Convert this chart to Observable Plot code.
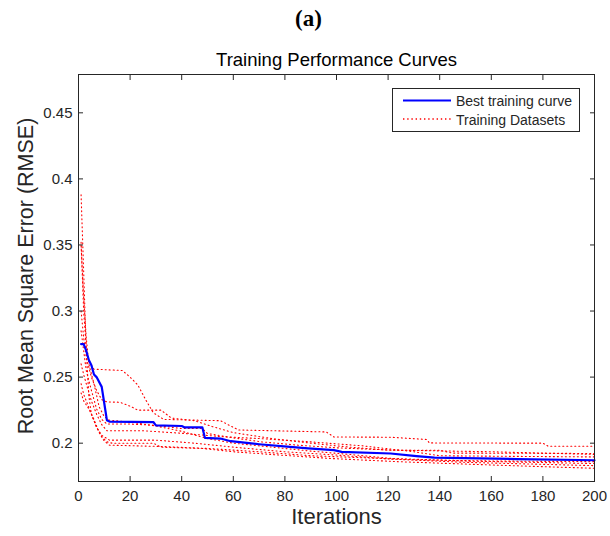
<!DOCTYPE html>
<html>
<head>
<meta charset="utf-8">
<script src="https://cdn.jsdelivr.net/npm/d3@7"></script>
<script src="https://cdn.jsdelivr.net/npm/@observablehq/plot@0.6"></script>
<style>
  html, body { margin: 0; padding: 0; background: #fff; }
  #chart { width: 610px; height: 536px; }
</style>
</head>
<body>
<div id="chart"></div>
<script>
// ---- tick labels ----
const xTicks = [0, 20, 40, 60, 80, 100, 120, 140, 160, 180, 200];
const yTicks = [0.2, 0.25, 0.3, 0.35, 0.4, 0.45];

// ---- best training curve ----
const bestIter = [1, 2, 3, 4, 5, 6, 7, 9, 10, 11, 12, 29, 30, 40, 41, 48, 49, 55, 59, 70, 82, 89, 99, 102, 121, 131, 138, 170, 200];
const bestRmse = [0.275, 0.275, 0.27, 0.263, 0.259, 0.252, 0.25, 0.2426, 0.23, 0.2174, 0.2163, 0.216, 0.2135, 0.213, 0.212, 0.212, 0.204, 0.2035, 0.2015, 0.1992, 0.1972, 0.196, 0.1947, 0.1934, 0.1922, 0.1902, 0.189, 0.188, 0.1871];

// ---- training datasets (dotted) ----
const runAIter = [1, 2, 3, 4, 6, 17, 20, 23, 26, 29, 33, 55, 58, 62, 96, 99, 121, 135, 136, 180, 182, 200];
const runARmse = [0.352, 0.30, 0.272, 0.262, 0.256, 0.255, 0.25, 0.244, 0.233, 0.223, 0.218, 0.217, 0.214, 0.21, 0.2085, 0.2047, 0.2045, 0.2028, 0.2002, 0.2, 0.1977, 0.1977];

const runBIter = [1, 2, 3, 4, 5, 7, 9, 11, 13, 29, 32, 48, 60, 78, 98, 124, 160, 200];
const runBRmse = [0.388, 0.33, 0.27, 0.236, 0.222, 0.212, 0.205, 0.201, 0.2, 0.2, 0.197, 0.196, 0.1935, 0.191, 0.1884, 0.186, 0.1835, 0.181];

const runCIter = [1, 2, 3, 4, 6, 8, 10, 12, 20, 30, 40, 50, 60, 75, 90, 105, 121, 150, 200];
const runCRmse = [0.35, 0.31, 0.28, 0.26, 0.245, 0.2275, 0.22, 0.2174, 0.216, 0.213, 0.209, 0.2035, 0.2, 0.197, 0.194, 0.1915, 0.1885, 0.1865, 0.1846];

const runDIter = [1, 2, 3, 5, 7, 9, 11, 16, 20, 23, 32, 36, 45, 52, 60, 75, 90, 105, 121, 140, 145, 200];
const runDRmse = [0.30, 0.28, 0.265, 0.25, 0.24, 0.233, 0.2312, 0.231, 0.228, 0.225, 0.225, 0.219, 0.217, 0.2125, 0.208, 0.2035, 0.2, 0.197, 0.1946, 0.1946, 0.1925, 0.1922];

const runEIter = [1, 2, 3, 5, 7, 9, 11, 20, 30, 40, 48, 50, 60, 71, 85, 100, 121, 160, 200];
const runERmse = [0.285, 0.27, 0.255, 0.24, 0.226, 0.218, 0.2145, 0.2145, 0.2135, 0.2111, 0.2111, 0.2073, 0.204, 0.201, 0.1985, 0.1965, 0.1948, 0.1935, 0.1915];

const runFIter = [1, 2, 3, 5, 7, 9, 11, 25, 40, 55, 70, 90, 110, 130, 140, 170, 200];
const runFRmse = [0.26, 0.252, 0.245, 0.232, 0.222, 0.214, 0.2094, 0.2094, 0.2075, 0.205, 0.2035, 0.201, 0.198, 0.1935, 0.1905, 0.19, 0.1896];

const runGIter = [1, 2, 3, 5, 7, 9, 12, 30, 45, 60, 80, 100, 121, 150, 200];
const runGRmse = [0.245, 0.237, 0.232, 0.222, 0.212, 0.206, 0.2023, 0.2023, 0.2, 0.197, 0.1935, 0.191, 0.188, 0.1855, 0.183];

const runHIter = [1, 2, 4, 6, 8, 10, 12, 32, 50, 70, 90, 110, 130, 160, 200];
const runHRmse = [0.238, 0.232, 0.226, 0.218, 0.208, 0.2015, 0.1985, 0.1975, 0.196, 0.1935, 0.1905, 0.189, 0.1875, 0.1865, 0.186];

const runs = [
  ["A", runAIter, runARmse], ["B", runBIter, runBRmse], ["C", runCIter, runCRmse],
  ["D", runDIter, runDRmse], ["E", runEIter, runERmse], ["F", runFIter, runFRmse],
  ["G", runGIter, runGRmse], ["H", runHIter, runHRmse]
];
const redRows = runs.flatMap(([run, it, v]) => it.map((x, i) => ({run, iter: x, rmse: v[i]})));
const bestRows = bestIter.map((x, i) => ({iter: x, rmse: bestRmse[i]}));

const FONT = "'Liberation Sans', Arial, Helvetica, sans-serif";
const INK = "#262626";
const DOT = "1,3";

const chart = Plot.plot({
  width: 610,
  height: 536,
  marginLeft: 78,
  marginRight: 16,
  marginTop: 74,
  marginBottom: 55,
  style: {fontFamily: FONT, background: "#fff", overflow: "visible"},
  x: {domain: [0, 200]},
  y: {domain: [0.171, 0.479]},
  marks: [
    Plot.line(redRows, {x: "iter", y: "rmse", z: "run", stroke: "#ff0000", strokeWidth: 1.1, strokeDasharray: DOT}),
    Plot.line(bestRows, {x: "iter", y: "rmse", stroke: "#0000ff", strokeWidth: 2.2}),
    Plot.frame({stroke: INK, strokeWidth: 1}),
    Plot.axisX({ticks: xTicks, tickSize: -5, tickPadding: 14, fontSize: 15, color: INK, label: null, tickFormat: d => String(d)}),
    Plot.axisX({anchor: "top", ticks: xTicks, tickSize: -5, tickFormat: null, text: null, label: null, color: INK}),
    Plot.axisY({ticks: yTicks, tickSize: -5, tickPadding: 11, fontSize: 15, color: INK, label: null, tickFormat: d => String(+d.toFixed(2))}),
    Plot.axisY({anchor: "right", ticks: yTicks, tickSize: -5, tickFormat: null, text: null, label: null, color: INK}),
    Plot.text(["Iterations"], {frameAnchor: "bottom", dy: 42, fontSize: 22, fill: INK}),
    Plot.text(["Root Mean Square Error (RMSE)"], {frameAnchor: "left", textAnchor: "middle", dx: -52, dy: -2, rotate: -90, fontSize: 21.5, fill: INK}),
    Plot.text(["Training Performance Curves"], {frameAnchor: "top", dy: -22, fontSize: 18.5, fill: "#000"}),
    Plot.text(["(a)"], {frameAnchor: "top", dx: -28, dy: -65, fontSize: 23, fontWeight: "bold", fontFamily: "'Liberation Serif', 'Times New Roman', serif", fill: "#000"})
  ]
});
document.getElementById("chart").appendChild(chart);

// ---- legend (box in the upper right of the axes) ----
const svg = d3.select(chart);
const lg = svg.append("g").attr("font-family", FONT).attr("font-size", 14).attr("text-anchor", "start");
lg.append("rect").attr("x", 392.5).attr("y", 88.5).attr("width", 187).attr("height", 43)
  .style("fill", "#fff").style("stroke", INK).style("stroke-width", 1);
lg.append("path").attr("d", "M403,100.5H451")
  .attr("fill", "none").attr("stroke", "#0000ff").attr("stroke-width", 2.2);
lg.append("path").attr("d", "M403,119H451")
  .attr("fill", "none").attr("stroke", "#ff0000").attr("stroke-width", 1.6).attr("stroke-dasharray", "1.4,2.8");
lg.append("text").attr("x", 456).attr("y", 105.5).attr("text-anchor", "start").style("fill", INK).text("Best training curve");
lg.append("text").attr("x", 456).attr("y", 124.5).attr("text-anchor", "start").style("fill", INK).text("Training Datasets");
</script>
</body>
</html>
